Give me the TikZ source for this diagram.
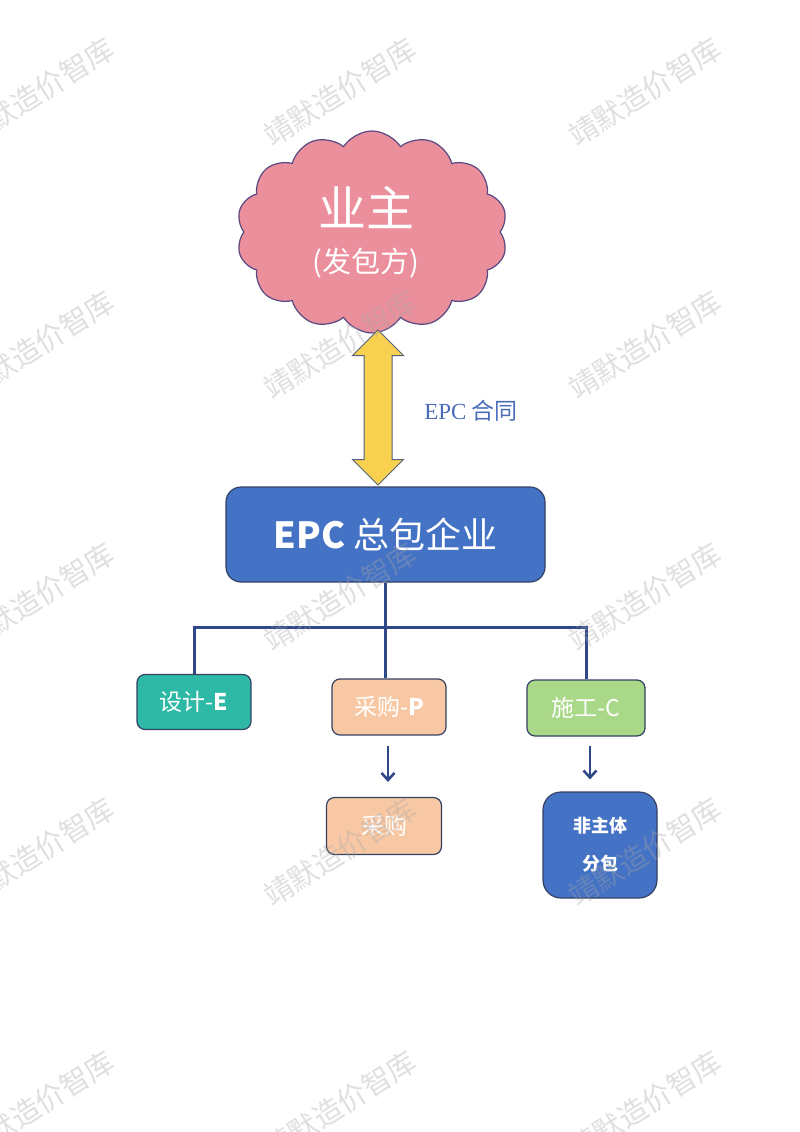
\documentclass[tikz,border=0pt]{standalone}
\usepackage{fontspec}
\setmainfont{Noto Sans CJK SC}
\newfontfamily\epcserif{Liberation Serif}
\definecolor{ownerpink}{RGB}{234, 143, 155}
\definecolor{cloudline}{RGB}{88, 72, 130}
\definecolor{contractyellow}{RGB}{249, 209, 80}
\definecolor{arrowline}{RGB}{84, 96, 122}
\definecolor{epcblue}{RGB}{68, 114, 196}
\definecolor{boxline}{RGB}{52, 66, 100}
\definecolor{designteal}{RGB}{46, 184, 166}
\definecolor{procurepeach}{RGB}{248, 200, 164}
\definecolor{buildgreen}{RGB}{168, 216, 136}
\definecolor{treenavy}{RGB}{46, 72, 138}
\definecolor{labelblue}{RGB}{74, 108, 184}
\usetikzlibrary{shapes.symbols, shapes.arrows, arrows.meta, calc}
\tikzset{
    ownercloud/.style={cloud, cloud puffs=14, cloud puff arc=115, aspect=1.34, draw=cloudline, fill=ownerpink,
                       line width=1.2pt, minimum width=271pt, minimum height=202pt, inner sep=0pt,
                       align=center, text=white},
    contractarrow/.style={double arrow, double arrow head extend=11.5pt, draw=arrowline, fill=contractyellow,
                          line width=1pt, minimum height=155pt, minimum width=50pt, inner xsep=0pt,
                          inner ysep=13.5pt, rotate=90},
    mainbox/.style={rectangle, rounded corners=15pt, draw=boxline, fill=epcblue, line width=1.2pt,
                    minimum width=319pt, minimum height=95pt, text=white, font=\fontsize{36}{40}\selectfont},
    phasebox/.style={rectangle, rounded corners=8pt, draw=boxline, line width=1.2pt,
                     minimum width=114pt, minimum height=55pt, text=white, font=\fontsize{23}{26}\selectfont},
    treeline/.style={line width=3pt, treenavy},
    downarrow/.style={-{Straight Barb[length=7pt, width=13pt]}, line width=2.6pt, treenavy},
    watermark/.style={rotate=32, text=gray!70, opacity=0.35, font=\fontsize{29}{30}\selectfont},
}
\begin{document}
\begin{tikzpicture}[x=1pt, y=-1pt]
    % page
    \fill[white] (0,0) rectangle (800,1132);
    \useasboundingbox (0,0) rectangle (800,1132);

    % owner and contract
    \node[ownercloud] (owner) at (372,232)
        {{\fontsize{48}{50}\selectfont 业主\hspace*{12pt}}\\[18pt]{\fontsize{29}{34}\selectfont (发包方)\hspace*{12pt}}};
    \node[mainbox] (epc) at (385.5,534.5) {\textbf{EPC} 总包企业};
    \node[contractarrow] (contract) at (378,407.5) {};
    \node[text=labelblue, font=\fontsize{23}{26}\selectfont] (contractlabel) at (471,411) {{\epcserif EPC} 合同};

    % phases
    \node[phasebox, fill=designteal] (design) at (194,702) {设计-\textbf{E}};
    \node[phasebox, fill=procurepeach, minimum height=56pt] (procure) at (389,707) {采购-\textbf{P}};
    \node[phasebox, fill=buildgreen, minimum width=118pt, minimum height=56pt] (build) at (586,708) {施工-C};

    % tree
    \coordinate (bus) at (0,627);
    \draw[treeline] (epc.south) -- (epc.south |- bus);
    \draw[treeline] (design.north) |- (build.north |- bus) -- (build.north);
    \draw[treeline] (epc.south |- bus) -- (epc.south |- procure.north);

    % lower boxes
    \node[phasebox, fill=procurepeach, minimum width=115pt, minimum height=57pt] (purchase) at (384,826) {采购};
    \node[phasebox, fill=epcblue, rounded corners=18pt, minimum height=106pt, align=center,
          font=\fontsize{18}{38}\selectfont\bfseries] (subcontract) at (600,845) {非主体\\分包};
    \draw[downarrow, shorten <=10pt, shorten >=15pt] (procure.south -| 388,0) -- (purchase.north -| 388,0);
    \draw[downarrow, shorten <=9pt, shorten >=12pt] (build.south -| 590,0) -- (subcontract.north -| 590,0);

    % watermarks
    \foreach \wy in {92,345,597,852,1105}
        \foreach \wx in {38,340,645}
            \node[watermark] (wm-\wx-\wy) at (\wx,\wy) {靖默造价智库};
\end{tikzpicture}
\end{document}
